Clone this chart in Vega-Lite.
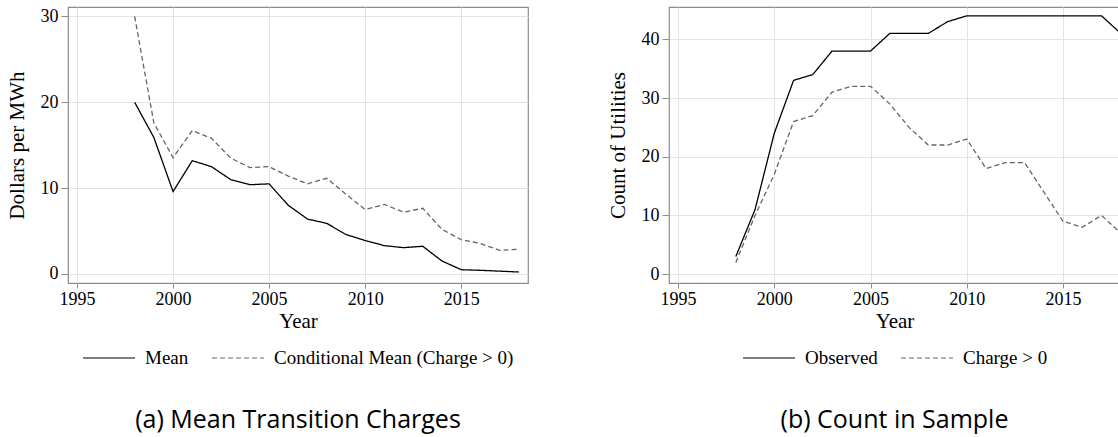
{
  "$schema": "https://vega.github.io/schema/vega-lite/v6.json",
  "padding": {"left": 5, "top": 6, "right": 0, "bottom": 0},
  "spacing": 77,
  "datasets": {
    "charges": [
      {"year": 1998, "series": "Mean", "value": 20.0},
      {"year": 1999, "series": "Mean", "value": 15.9},
      {"year": 2000, "series": "Mean", "value": 9.6},
      {"year": 2001, "series": "Mean", "value": 13.2},
      {"year": 2002, "series": "Mean", "value": 12.5},
      {"year": 2003, "series": "Mean", "value": 11.0},
      {"year": 2004, "series": "Mean", "value": 10.4},
      {"year": 2005, "series": "Mean", "value": 10.5},
      {"year": 2006, "series": "Mean", "value": 8.0},
      {"year": 2007, "series": "Mean", "value": 6.4},
      {"year": 2008, "series": "Mean", "value": 5.9},
      {"year": 2009, "series": "Mean", "value": 4.6},
      {"year": 2010, "series": "Mean", "value": 3.9},
      {"year": 2011, "series": "Mean", "value": 3.3},
      {"year": 2012, "series": "Mean", "value": 3.07},
      {"year": 2013, "series": "Mean", "value": 3.23},
      {"year": 2014, "series": "Mean", "value": 1.52},
      {"year": 2015, "series": "Mean", "value": 0.5},
      {"year": 2016, "series": "Mean", "value": 0.43},
      {"year": 2017, "series": "Mean", "value": 0.33},
      {"year": 2018, "series": "Mean", "value": 0.23},
      {"year": 1998, "series": "Conditional Mean (Charge > 0)", "value": 30.0},
      {"year": 1999, "series": "Conditional Mean (Charge > 0)", "value": 17.6},
      {"year": 2000, "series": "Conditional Mean (Charge > 0)", "value": 13.55},
      {"year": 2001, "series": "Conditional Mean (Charge > 0)", "value": 16.7},
      {"year": 2002, "series": "Conditional Mean (Charge > 0)", "value": 15.8},
      {"year": 2003, "series": "Conditional Mean (Charge > 0)", "value": 13.5},
      {"year": 2004, "series": "Conditional Mean (Charge > 0)", "value": 12.4},
      {"year": 2005, "series": "Conditional Mean (Charge > 0)", "value": 12.5},
      {"year": 2006, "series": "Conditional Mean (Charge > 0)", "value": 11.4},
      {"year": 2007, "series": "Conditional Mean (Charge > 0)", "value": 10.5},
      {"year": 2008, "series": "Conditional Mean (Charge > 0)", "value": 11.15},
      {"year": 2009, "series": "Conditional Mean (Charge > 0)", "value": 9.3},
      {"year": 2010, "series": "Conditional Mean (Charge > 0)", "value": 7.5},
      {"year": 2011, "series": "Conditional Mean (Charge > 0)", "value": 8.1},
      {"year": 2012, "series": "Conditional Mean (Charge > 0)", "value": 7.2},
      {"year": 2013, "series": "Conditional Mean (Charge > 0)", "value": 7.65},
      {"year": 2014, "series": "Conditional Mean (Charge > 0)", "value": 5.2},
      {"year": 2015, "series": "Conditional Mean (Charge > 0)", "value": 4.0},
      {"year": 2016, "series": "Conditional Mean (Charge > 0)", "value": 3.55},
      {"year": 2017, "series": "Conditional Mean (Charge > 0)", "value": 2.76},
      {"year": 2018, "series": "Conditional Mean (Charge > 0)", "value": 2.88}
    ],
    "counts": [
      {"year": 1998, "series": "Observed", "value": 3},
      {"year": 1999, "series": "Observed", "value": 11},
      {"year": 2000, "series": "Observed", "value": 24},
      {"year": 2001, "series": "Observed", "value": 33},
      {"year": 2002, "series": "Observed", "value": 34},
      {"year": 2003, "series": "Observed", "value": 38},
      {"year": 2004, "series": "Observed", "value": 38},
      {"year": 2005, "series": "Observed", "value": 38},
      {"year": 2006, "series": "Observed", "value": 41},
      {"year": 2007, "series": "Observed", "value": 41},
      {"year": 2008, "series": "Observed", "value": 41},
      {"year": 2009, "series": "Observed", "value": 43},
      {"year": 2010, "series": "Observed", "value": 44},
      {"year": 2011, "series": "Observed", "value": 44},
      {"year": 2012, "series": "Observed", "value": 44},
      {"year": 2013, "series": "Observed", "value": 44},
      {"year": 2014, "series": "Observed", "value": 44},
      {"year": 2015, "series": "Observed", "value": 44},
      {"year": 2016, "series": "Observed", "value": 44},
      {"year": 2017, "series": "Observed", "value": 44},
      {"year": 2018, "series": "Observed", "value": 41},
      {"year": 1998, "series": "Charge > 0", "value": 2},
      {"year": 1999, "series": "Charge > 0", "value": 10},
      {"year": 2000, "series": "Charge > 0", "value": 17},
      {"year": 2001, "series": "Charge > 0", "value": 26},
      {"year": 2002, "series": "Charge > 0", "value": 27},
      {"year": 2003, "series": "Charge > 0", "value": 31},
      {"year": 2004, "series": "Charge > 0", "value": 32},
      {"year": 2005, "series": "Charge > 0", "value": 32},
      {"year": 2006, "series": "Charge > 0", "value": 29},
      {"year": 2007, "series": "Charge > 0", "value": 25},
      {"year": 2008, "series": "Charge > 0", "value": 22},
      {"year": 2009, "series": "Charge > 0", "value": 22},
      {"year": 2010, "series": "Charge > 0", "value": 23},
      {"year": 2011, "series": "Charge > 0", "value": 18},
      {"year": 2012, "series": "Charge > 0", "value": 19},
      {"year": 2013, "series": "Charge > 0", "value": 19},
      {"year": 2014, "series": "Charge > 0", "value": 14},
      {"year": 2015, "series": "Charge > 0", "value": 9},
      {"year": 2016, "series": "Charge > 0", "value": 8},
      {"year": 2017, "series": "Charge > 0", "value": 10},
      {"year": 2018, "series": "Charge > 0", "value": 7}
    ]
  },
  "hconcat": [
    {
      "width": 460,
      "height": 276,
      "title": {"text": "(a) Mean Transition Charges"},
      "data": {"name": "charges"},
      "mark": {"type": "line", "strokeWidth": 1.3, "clip": true},
      "encoding": {
        "x": {
          "field": "year", "type": "quantitative",
          "scale": {"domain": [1994.53, 2018.48], "nice": false, "zero": false},
          "axis": {"title": "Year", "values": [1995, 2000, 2005, 2010, 2015], "format": "d", "tickSize": 5, "labelPadding": 2, "titlePadding": 2,
                   "labelFont": "Liberation Serif", "labelFontSize": 18, "labelColor": "#000000"}
        },
        "y": {
          "field": "value", "type": "quantitative",
          "scale": {"domain": [-1.05, 31.1], "nice": false, "zero": false},
          "axis": {"title": "Dollars per MWh", "values": [0, 10, 20, 30], "tickSize": 7, "labelPadding": 3, "titlePadding": 13,
                   "labelFont": "Liberation Serif", "labelFontSize": 18, "labelColor": "#000000"}
        },
        "color": {
          "field": "series", "type": "nominal", "title": null,
          "scale": {"domain": ["Mean", "Conditional Mean (Charge > 0)"], "range": ["#000000", "#666666"]}
        },
        "strokeDash": {
          "field": "series", "type": "nominal", "title": null,
          "scale": {"domain": ["Mean", "Conditional Mean (Charge > 0)"], "range": [[1, 0], [5, 3]]}
        }
      }
    },
    {
      "width": 451,
      "height": 276,
      "title": {"text": "(b) Count in Sample"},
      "data": {"name": "counts"},
      "mark": {"type": "line", "strokeWidth": 1.3, "clip": true},
      "encoding": {
        "x": {
          "field": "year", "type": "quantitative",
          "scale": {"domain": [1994.53, 2017.96], "nice": false, "zero": false},
          "axis": {"title": "Year", "values": [1995, 2000, 2005, 2010, 2015], "format": "d", "tickSize": 5, "labelPadding": 2, "titlePadding": 2,
                   "labelFont": "Liberation Serif", "labelFontSize": 18, "labelColor": "#000000"}
        },
        "y": {
          "field": "value", "type": "quantitative",
          "scale": {"domain": [-1.5, 45.5], "nice": false, "zero": false},
          "axis": {"title": "Count of Utilities", "values": [0, 10, 20, 30, 40], "tickSize": 7, "labelPadding": 3, "titlePadding": 13,
                   "labelFont": "Liberation Serif", "labelFontSize": 18, "labelColor": "#000000"}
        },
        "color": {
          "field": "series", "type": "nominal", "title": null,
          "scale": {"domain": ["Observed", "Charge > 0"], "range": ["#000000", "#666666"]}
        },
        "strokeDash": {
          "field": "series", "type": "nominal", "title": null,
          "scale": {"domain": ["Observed", "Charge > 0"], "range": [[1, 0], [5, 3]]}
        }
      }
    }
  ],
  "resolve": {"scale": {"color": "independent", "strokeDash": "independent"}},
  "config": {
    "font": "Liberation Serif",
    "style": {"guide-label": {"font": "Liberation Serif", "fontSize": 18, "fill": "#000000"}},
    "view": {"stroke": "#8c8c8c", "strokeWidth": 1.2},
    "axis": {
      "domain": false,
      "labelFont": "Liberation Serif", "labelFontSize": 18, "labelColor": "#000000",
      "titleFont": "Liberation Serif", "titleFontSize": 21, "titleFontWeight": "normal", "titleColor": "#000000",
      "grid": true, "gridColor": "#e3e3e3", "gridWidth": 1,
      "tickColor": "#8c8c8c", "tickWidth": 1
    },
    "legend": {
      "orient": "bottom", "direction": "horizontal",
      "layout": {"bottom": {"anchor": "middle"}},
      "offset": 0,
      "symbolType": "stroke", "symbolSize": 2704, "symbolStrokeWidth": 1.2,
      "labelFont": "Liberation Serif", "labelFontSize": 19, "labelColor": "#000000",
      "labelOffset": 9, "columnPadding": 20, "labelLimit": 400
    },
    "title": {
      "font": "Open Sans", "fontSize": 25, "fontWeight": "normal", "color": "#000000",
      "orient": "bottom", "anchor": "middle", "offset": 40
    }
  }
}
